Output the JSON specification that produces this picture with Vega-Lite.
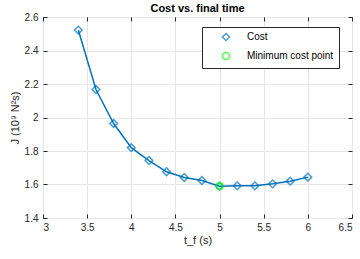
{
  "$schema": "https://vega.github.io/schema/vega-lite/v6.json",
  "autosize": {"type": "none"},
  "padding": {"left": 43, "top": 17, "right": 8, "bottom": 41},
  "width": 309,
  "height": 201,
  "background": "white",
  "config": {
    "font": "Liberation Sans",
    "view": {"stroke": "#262626", "strokeWidth": 1},
    "axis": {
      "labelFont": "Liberation Sans",
      "titleFont": "Liberation Sans",
      "labelFontSize": 10,
      "titleFontSize": 11,
      "labelColor": "#262626",
      "titleColor": "#262626",
      "titleFontWeight": "normal",
      "domain": false,
      "tickColor": "#262626",
      "gridColor": "#e6e6e6",
      "gridWidth": 1
    },
    "legend": {
      "orient": "none",
      "legendX": 159,
      "legendY": 10,
      "fillColor": "white",
      "strokeColor": "#262626",
      "padding": 5,
      "labelFont": "Liberation Sans",
      "labelFontSize": 10,
      "labelColor": "#000000",
      "symbolOffset": 14,
      "labelOffset": 16,
      "rowPadding": 5,
      "symbolSize": 50,
      "symbolStrokeWidth": 1.5
    }
  },
  "title": {
    "text": "Cost vs. final time",
    "fontSize": 11,
    "fontWeight": "bold",
    "font": "Liberation Sans",
    "color": "#000000",
    "offset": -2
  },
  "datasets": {
    "cost": [
      {"t": 3.4, "J": 2.522, "series": "Cost"},
      {"t": 3.6, "J": 2.167, "series": "Cost"},
      {"t": 3.8, "J": 1.964, "series": "Cost"},
      {"t": 4.0, "J": 1.820, "series": "Cost"},
      {"t": 4.2, "J": 1.743, "series": "Cost"},
      {"t": 4.4, "J": 1.676, "series": "Cost"},
      {"t": 4.6, "J": 1.642, "series": "Cost"},
      {"t": 4.8, "J": 1.624, "series": "Cost"},
      {"t": 5.0, "J": 1.590, "series": "Cost"},
      {"t": 5.2, "J": 1.592, "series": "Cost"},
      {"t": 5.4, "J": 1.592, "series": "Cost"},
      {"t": 5.6, "J": 1.604, "series": "Cost"},
      {"t": 5.8, "J": 1.620, "series": "Cost"},
      {"t": 6.0, "J": 1.644, "series": "Cost"}
    ],
    "minpt": [
      {"t": 5.0, "J": 1.590, "series": "Minimum cost point"}
    ]
  },
  "layer": [
    {
      "data": {"name": "cost"},
      "mark": {"type": "line", "color": "#0072BD", "strokeWidth": 1.5},
      "encoding": {
        "x": {
          "field": "t", "type": "quantitative",
          "scale": {"domain": [3, 6.5], "nice": false, "zero": false},
          "axis": {"orient": "bottom", "title": "t_f (s)", "values": [3, 3.5, 4, 4.5, 5, 5.5, 6, 6.5], "format": "~g", "tickSize": -4, "labelPadding": 8, "titlePadding": 2, "grid": true}
        },
        "y": {
          "field": "J", "type": "quantitative",
          "scale": {"domain": [1.4, 2.6], "nice": false, "zero": false},
          "axis": {"orient": "left", "title": "J (10⁹ N²s)", "values": [1.4, 1.6, 1.8, 2, 2.2, 2.4, 2.6], "format": "~g", "tickSize": -4, "labelPadding": 9, "titlePadding": 4, "grid": true}
        }
      }
    },
    {
      "data": {"name": "cost"},
      "mark": {"type": "point", "filled": false, "strokeWidth": 1.5, "size": 60},
      "encoding": {
        "x": {"field": "t", "type": "quantitative", "axis": {"orient": "top", "title": null, "labels": false, "grid": false, "values": [3, 3.5, 4, 4.5, 5, 5.5, 6, 6.5], "tickSize": -4}},
        "y": {"field": "J", "type": "quantitative", "axis": {"orient": "right", "title": null, "labels": false, "grid": false, "values": [1.4, 1.6, 1.8, 2, 2.2, 2.4, 2.6], "tickSize": -4}},
        "color": {"field": "series", "type": "nominal", "scale": {"domain": ["Cost", "Minimum cost point"], "range": ["#0072BD", "#00FF00"]}, "legend": {"title": null}},
        "shape": {"field": "series", "type": "nominal", "scale": {"domain": ["Cost", "Minimum cost point"], "range": ["diamond", "circle"]}, "legend": {"title": null}}
      }
    },
    {
      "data": {"name": "minpt"},
      "mark": {"type": "point", "filled": false, "strokeWidth": 1.8, "size": 40},
      "encoding": {
        "x": {"field": "t", "type": "quantitative", "axis": null},
        "y": {"field": "J", "type": "quantitative", "axis": null},
        "color": {"field": "series", "type": "nominal"},
        "shape": {"field": "series", "type": "nominal"}
      }
    }
  ],
  "resolve": {"axis": {"x": "independent", "y": "independent"}}
}
